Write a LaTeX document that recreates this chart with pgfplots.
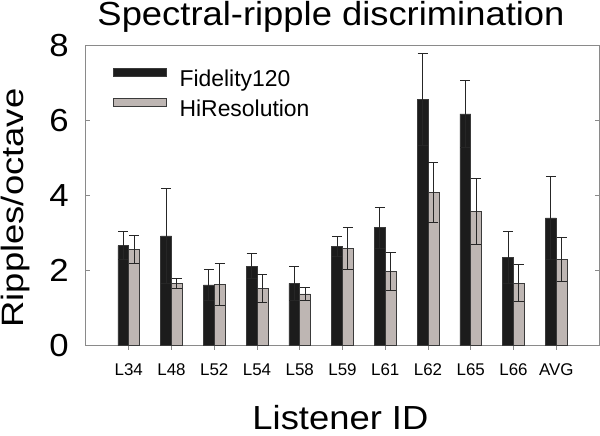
\documentclass[border=0pt]{standalone}
\usepackage{fontspec}
\setmainfont{Liberation Sans}
\newfontfamily\widefont[FakeStretch=1.09]{Liberation Sans}
\newfontfamily\ylabfont[FakeStretch=1.18]{Liberation Sans}
\usepackage{pgfplots}
\usepackage{pgfplotstable}
\pgfplotsset{compat=1.18}
\definecolor{barblack}{HTML}{1C1C1C}
\definecolor{bargray}{HTML}{BEB6B3}
\definecolor{framegray}{HTML}{8A8A8A}
\definecolor{edgegray}{HTML}{3A3A3A}

\pgfplotstableread{
x y e
0 2.67 0.37
1 2.93 1.27
2 1.62 0.42
3 2.12 0.33
4 1.66 0.45
5 2.64 0.27
6 3.15 0.55
7 6.56 1.22
8 6.18 0.89
9 2.35 0.69
10 3.41 1.11
}\fidelity

\pgfplotstableread{
x y e
0 2.57 0.38
1 1.67 0.13
2 1.64 0.56
3 1.53 0.37
4 1.38 0.18
5 2.60 0.56
6 1.98 0.51
7 4.09 0.79
8 3.58 0.87
9 1.67 0.49
10 2.31 0.59
}\hires

\begin{document}
\begin{tikzpicture}
\path[use as bounding box] (-86bp,-90.3bp) rectangle (514bp,345.7bp);
\begin{axis}[
  at={(0,0)}, anchor=south west,
  scale only axis, width=513bp, height=300bp,
  xmin=-1, xmax=11, ymin=0, ymax=8,
  enlargelimits=false,
  ybar=0pt, bar width=10.8bp,
  xtick={0,...,10},
  xticklabels={L34,L48,L52,L54,L58,L59,L61,L62,L65,L66,AVG},
  ytick={0,2,4,6,8},
  xtick pos=bottom, xtick align=outside,
  ytick pos=both, ytick align=inside,
  major tick length=4bp,
  axis line style={framegray, line width=1bp},
  tick style={framegray, line width=0.8bp},
  /pgf/number format/assume math mode=true,
  yticklabel style={font=\widefont\fontsize{32}{32}\selectfont, inner sep=0pt, xshift=-17bp},
  xticklabel style={font=\fontsize{17}{17}\selectfont, inner sep=0pt, anchor=base, yshift=-26bp},
  every axis title shift=0pt,
  title={Spectral-ripple discrimination},
  title style={font=\widefont\fontsize{33.5}{33.5}\selectfont, at={(axis description cs:0.4776,1.0657)}, anchor=base, inner sep=0pt},
  xlabel={Listener ID},
  xlabel style={font=\widefont\fontsize{33.5}{33.5}\selectfont, at={(axis description cs:0.496,-0.2800)}, anchor=base, inner sep=0pt},
  ylabel={Ripples/octave},
  ylabel style={font=\ylabfont\fontsize{31}{31}\selectfont, at={(axis description cs:-0.1228,0.459)}, anchor=base, inner sep=0pt},
  legend style={draw=none, fill=none, at={(axis description cs:0.0526,0.9257)}, anchor=north west,
    inner sep=0pt, outer sep=0pt, row sep=6.5bp, font=\fontsize{23}{23}\selectfont,
    nodes={inner sep=0pt, text height=17bp, text depth=5bp}},
  legend cell align=left,
  mylegend/.style={legend image code/.code={\draw[##1] (0bp,4bp) rectangle (53bp,12bp); \path (66bp,8bp);}},
]
\addplot[fill=barblack, draw=edgegray, line width=0.6bp, mylegend,
  error bars/.cd, y dir=both, y explicit,
  error bar style={line width=0.9bp, color=black!85},
  error mark options={rotate=90, mark size=5bp, line width=0.9bp, color=black!85}]
  table[x=x, y=y, y error=e] {\fidelity};
\addplot[fill=bargray, draw=edgegray, line width=0.6bp, mylegend,
  error bars/.cd, y dir=both, y explicit,
  error bar style={line width=0.9bp, color=black!85},
  error mark options={rotate=90, mark size=5bp, line width=0.9bp, color=black!85}]
  table[x=x, y=y, y error=e] {\hires};
\legend{Fidelity120, HiResolution}
\end{axis}
\end{tikzpicture}
\end{document}
